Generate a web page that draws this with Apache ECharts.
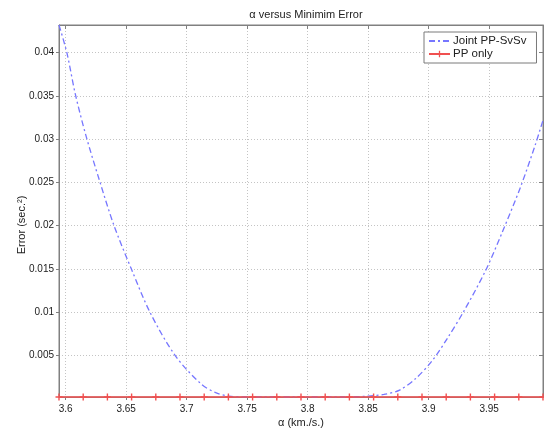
<!DOCTYPE html>
<html>
<head>
	<meta charset="UTF-8">
	<title>alpha versus Minimim Error</title>
	<script src="https://cdn.jsdelivr.net/npm/echarts@6/dist/echarts.min.js"></script>
	<style>
		html, body { margin: 0; padding: 0; background: #fff; }
		#main { width: 544px; height: 433px; }
	</style>
</head>
<body>
<div id="main"></div>
<script type="text/javascript">
    // data
    var jointAlpha = [3.5945, 3.601, 3.608, 3.617, 3.628, 3.640, 3.654, 3.670, 3.691, 3.712, 3.724, 3.735,
        3.750, 3.770, 3.790, 3.810, 3.830, 3.850, 3.863, 3.876, 3.889, 3.903, 3.916, 3.929, 3.947,
        3.961, 3.976, 3.988, 3.9945];
    var jointError = [0.0432, 0.0400, 0.0352, 0.0303, 0.0252, 0.0200, 0.0151, 0.0099, 0.0049, 0.0017, 0.0007, 0.0003,
        0.0002, 0.0002, 0.0002, 0.0002, 0.0002, 0.0003, 0.0005, 0.0010, 0.0023, 0.0044, 0.0071, 0.0101, 0.0148,
        0.0193, 0.0245, 0.0293, 0.0322];
    var ppAlpha = [3.5945, 3.6145, 3.6345, 3.6545, 3.6745, 3.6945, 3.7145, 3.7345, 3.7545, 3.7745, 3.7945,
        3.8145, 3.8345, 3.8545, 3.8745, 3.8945, 3.9145, 3.9345, 3.9545, 3.9745, 3.9945];
    var ppError = [0.0002, 0.0002, 0.0002, 0.0002, 0.0002, 0.0002, 0.0002, 0.0002, 0.0002, 0.0002, 0.0002,
        0.0002, 0.0002, 0.0002, 0.0002, 0.0002, 0.0002, 0.0002, 0.0002, 0.0002, 0.0002];
    var xRange = [3.5945, 3.9945];
    var yRange = [0.0002, 0.0432];

    function pairs(xs, ys) {
        var out = [];
        for (var i = 0; i < xs.length; i++) {
            out.push([xs[i], ys[i]]);
        }
        return out;
    }

    var font = 'Liberation Sans, Arial, Helvetica, sans-serif';
    var frame = '#808080';
    var grid = {type: [1, 2], color: '#c4c4c4', width: 1};
    var plus = 'path://M4,0h2v4h4v2h-4v4h-2v-4h-4v-2h4z';

    var myChart = echarts.init(document.getElementById('main'));

    myChart.setOption({
        animation: false,
        backgroundColor: '#fff',
        textStyle: {fontFamily: font},
        title: {
            text: 'α versus Minimim Error',
            left: 301,
            top: 4,
            textAlign: 'center',
            textStyle: {fontSize: 11, fontWeight: 'normal', color: '#222', fontFamily: font}
        },
        legend: {
            orient: 'vertical',
            left: 424,
            top: 32,
            padding: [3, 10, 3, 4],
            itemWidth: 21,
            itemHeight: 8,
            itemGap: 1,
            backgroundColor: '#fff',
            borderColor: '#7a7a7a',
            borderWidth: 1,
            textStyle: {fontSize: 11.5, color: '#222', fontFamily: font, padding: [0, 0, 0, -2]},
            data: [
                {name: 'Joint PP-SvSv', itemStyle: {opacity: 0}},
                {name: 'PP only'}
            ]
        },
        grid: {
            left: 59, right: 1, top: 25, bottom: 30,
            show: true, borderColor: frame, borderWidth: 1
        },
        xAxis: [
            {
                type: 'value',
                min: xRange[0], max: xRange[1],
                splitNumber: 8,
                name: 'α (km./s.)',
                nameLocation: 'middle',
                nameGap: 20,
                nameMoveOverlap: false,
                nameTextStyle: {fontSize: 11, color: '#222', fontFamily: font},
                axisLine: {lineStyle: {color: frame}},
                axisTick: {show: true, inside: false, length: 3, lineStyle: {color: frame}},
                axisLabel: {fontSize: 10, color: '#222', margin: 7, showMinLabel: false, showMaxLabel: false},
                splitLine: {show: true, lineStyle: grid}
            },
            {
                type: 'value', position: 'top',
                min: xRange[0], max: xRange[1],
                splitNumber: 8,
                axisLine: {lineStyle: {color: frame}},
                axisTick: {show: true, inside: true, length: 4, lineStyle: {color: frame}},
                axisLabel: {show: false},
                splitLine: {show: false}
            }
        ],
        yAxis: [
            {
                type: 'value',
                min: yRange[0], max: yRange[1],
                splitNumber: 8,
                name: 'Error (sec.²)',
                nameLocation: 'middle',
                nameGap: 32,
                nameMoveOverlap: false,
                nameTextStyle: {fontSize: 11, color: '#222', fontFamily: font, padding: [0, 28, 0, 0]},
                axisLine: {show: true, lineStyle: {color: frame}},
                axisTick: {show: true, inside: false, length: 3, lineStyle: {color: frame}},
                axisLabel: {fontSize: 10, color: '#222', margin: 5, showMinLabel: false, showMaxLabel: false},
                splitLine: {show: true, lineStyle: grid}
            },
            {
                type: 'value', position: 'right',
                min: yRange[0], max: yRange[1],
                splitNumber: 8,
                axisLine: {show: true, lineStyle: {color: frame}},
                axisTick: {show: true, inside: true, length: 4, lineStyle: {color: frame}},
                axisLabel: {show: false},
                splitLine: {show: false}
            }
        ],
        series: [
            {
                name: 'Joint PP-SvSv',
                type: 'line',
                data: pairs(jointAlpha, jointError),
                smooth: 0.3,
                showSymbol: false,
                symbol: 'none',
                clip: false,
                color: '#7676ff',
                lineStyle: {color: '#7676ff', width: 1.3, type: [6, 3, 2, 3]},
                z: 3
            },
            {
                name: 'PP only',
                type: 'line',
                data: pairs(ppAlpha, ppError),
                symbol: plus,
                symbolSize: 7,
                clip: false,
                color: '#f05050',
                itemStyle: {color: '#f05050', borderWidth: 0},
                lineStyle: {color: '#f05050', width: 1.5},
                z: 4
            }
        ]
    });
</script>
</body>
</html>
